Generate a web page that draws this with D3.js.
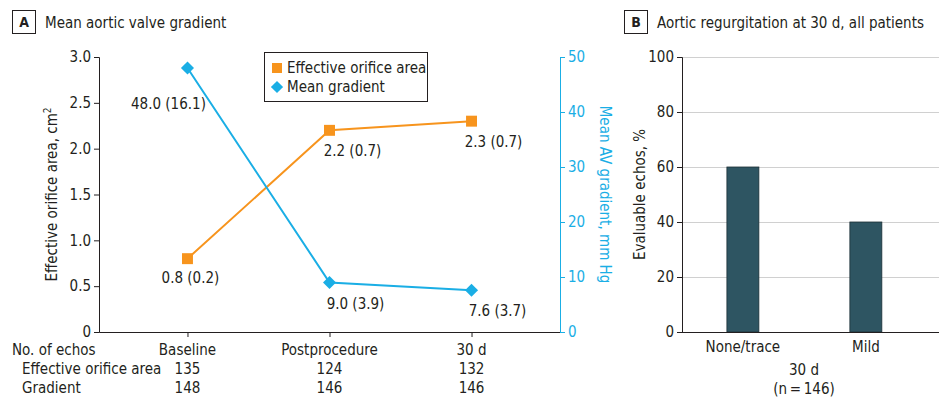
<!DOCTYPE html>
<html>
<head>
<meta charset="utf-8">
<script src="https://cdn.jsdelivr.net/npm/d3@7"></script>
<style>
  body { margin: 0; background: #fff; }
  svg text { font-family: "Liberation Sans Narrow", "DejaVu Sans Condensed", "Liberation Sans", sans-serif; fill: #231f20; }
</style>
</head>
<body>
<div id="vis-container"></div>
<script>
// panel A data
var timepoints = ["Baseline", "Postprocedure", "30 d"];
var eoaValues = [0.8, 2.2, 2.3];
var eoaLabels = ["0.8 (0.2)", "2.2 (0.7)", "2.3 (0.7)"];
var gradValues = [48.0, 9.0, 7.6];
var gradLabels = ["48.0 (16.1)", "9.0 (3.9)", "7.6 (3.7)"];
var eoaTicks = [0, 0.5, 1.0, 1.5, 2.0, 2.5, 3.0];
var gradTicks = [0, 10, 20, 30, 40, 50];
var echosEoa = [135, 124, 132];
var echosGrad = [148, 146, 146];

// panel B data
var arCategories = ["None/trace", "Mild"];
var arValues = [60, 40];
var arTicks = [0, 20, 40, 60, 80, 100];

var orange = "#f7941d", blue = "#1aaee5", dark = "#231f20", barFill = "#2e5562";

var svg = d3.select("#vis-container").append("svg")
  .attr("width", 939).attr("height", 412);

function panelTitle(x, letter, text) {
  svg.append("rect").attr("x", x + 0.5).attr("y", 10.5).attr("width", 23).attr("height", 23)
    .attr("fill", "none").attr("stroke", dark).attr("stroke-width", 1);
  svg.append("text").attr("x", x + 12).attr("y", 27).attr("text-anchor", "middle")
    .style("font-size", "14px").style("font-weight", "bold").text(letter);
  svg.append("text").attr("x", x + 33).attr("y", 28).style("font-size", "15px").text(text);
}
panelTitle(12, "A", "Mean aortic valve gradient");
panelTitle(624, "B", "Aortic regurgitation at 30 d, all patients");

// ---------- panel A ----------
var plotTop = 57, plotBottom = 332, plotLeft = 99, plotRight = 560;
var x = d3.scalePoint().domain(timepoints).range([plotLeft, plotRight]).padding(0.623);
var yL = d3.scaleLinear().domain([0, 3]).range([plotBottom, plotTop]);
var yR = d3.scaleLinear().domain([0, 50]).range([plotBottom, plotTop]);

var yAxisL = svg.append("g").attr("transform", "translate(" + plotLeft + ",0)")
  .call(d3.axisLeft(yL).tickValues(eoaTicks).tickSize(5).tickPadding(3)
    .tickFormat(function(d) { return d === 0 ? "0" : d3.format(".1f")(d); }));
yAxisL.selectAll("text").style("font-size", "15px");
yAxisL.selectAll("line, path").attr("stroke", dark);

var xAxis = svg.append("g").attr("transform", "translate(0," + plotBottom + ")")
  .call(d3.axisBottom(x).tickSize(5).tickSizeOuter(0).tickFormat(""));
xAxis.selectAll("line, path").attr("stroke", dark);

var yAxisR = svg.append("g").attr("transform", "translate(" + plotRight + ",0)")
  .call(d3.axisRight(yR).tickValues(gradTicks).tickSize(5).tickPadding(3));
yAxisR.selectAll("text").style("font-size", "15px").style("fill", blue);
yAxisR.selectAll("line, path").attr("stroke", blue);

svg.append("text")
  .attr("transform", "translate(57," + ((plotTop + plotBottom) / 2) + ") rotate(-90)")
  .attr("text-anchor", "middle").style("font-size", "15px")
  .html('Effective orifice area, cm<tspan dy="-6" style="font-size:10px">2</tspan>');

svg.append("text")
  .attr("transform", "translate(600," + ((plotTop + plotBottom) / 2) + ") rotate(90)")
  .attr("text-anchor", "middle").style("font-size", "15px").style("fill", blue)
  .text("Mean AV gradient, mm Hg");

// lines
var eoaLine = d3.line().x(function(d, i) { return x(timepoints[i]); }).y(function(d) { return yL(d); });
var gradLine = d3.line().x(function(d, i) { return x(timepoints[i]); }).y(function(d) { return yR(d); });

svg.append("path").datum(eoaValues).attr("d", eoaLine)
  .attr("fill", "none").attr("stroke", orange).attr("stroke-width", 2);
svg.append("path").datum(gradValues).attr("d", gradLine)
  .attr("fill", "none").attr("stroke", blue).attr("stroke-width", 2);

svg.selectAll(".eoa-pt").data(eoaValues).enter().append("path")
  .attr("class", "eoa-pt")
  .attr("d", d3.symbol().type(d3.symbolSquare).size(120))
  .attr("transform", function(d, i) { return "translate(" + x(timepoints[i]) + "," + yL(d) + ")"; })
  .attr("fill", orange);

// diamonds = squares turned 45 degrees
svg.selectAll(".grad-pt").data(gradValues).enter().append("path")
  .attr("class", "grad-pt")
  .attr("d", d3.symbol().type(d3.symbolSquare).size(85))
  .attr("transform", function(d, i) { return "translate(" + x(timepoints[i]) + "," + yR(d) + ") rotate(45)"; })
  .attr("fill", blue);

// value labels
var eoaOff = [[3, 24], [23, 26], [22, 26]];
svg.selectAll(".eoa-lab").data(eoaValues).enter().append("text")
  .attr("x", function(d, i) { return x(timepoints[i]) + eoaOff[i][0]; })
  .attr("y", function(d) { return yL(d); })
  .attr("dy", function(d, i) { return eoaOff[i][1]; })
  .attr("text-anchor", "middle").style("font-size", "15px")
  .text(function(d, i) { return eoaLabels[i]; });

var gradOff = [[-19, 41], [26, 26], [26, 26]];
svg.selectAll(".grad-lab").data(gradValues).enter().append("text")
  .attr("x", function(d, i) { return x(timepoints[i]) + gradOff[i][0]; })
  .attr("y", function(d) { return yR(d); })
  .attr("dy", function(d, i) { return gradOff[i][1]; })
  .attr("text-anchor", "middle").style("font-size", "15px")
  .text(function(d, i) { return gradLabels[i]; });

// legend
var leg = svg.append("g").attr("transform", "translate(264,52)");
leg.append("rect").attr("x", 0.5).attr("y", 0.5).attr("width", 163).attr("height", 49)
  .attr("fill", "#fff").attr("stroke", dark);
leg.append("path").attr("d", d3.symbol().type(d3.symbolSquare).size(100))
  .attr("transform", "translate(13,16)").attr("fill", orange);
leg.append("text").attr("x", 23).attr("y", 21).style("font-size", "15px").text("Effective orifice area");
leg.append("path").attr("d", d3.symbol().type(d3.symbolSquare).size(75))
  .attr("transform", "translate(13,35) rotate(45)").attr("fill", blue);
leg.append("text").attr("x", 23).attr("y", 40).style("font-size", "15px").text("Mean gradient");

// echo counts table
svg.append("text").attr("x", 12).attr("y", 355).style("font-size", "15px").text("No. of echos");
svg.append("text").attr("x", 22).attr("y", 374).style("font-size", "15px").text("Effective orifice area");
svg.append("text").attr("x", 22).attr("y", 393).style("font-size", "15px").text("Gradient");
svg.selectAll(".tp-lab").data(timepoints).enter().append("text")
  .attr("x", function(d) { return x(d); }).attr("y", 355)
  .attr("text-anchor", "middle").style("font-size", "15px").text(function(d) { return d; });
svg.selectAll(".n-eoa").data(echosEoa).enter().append("text")
  .attr("x", function(d, i) { return x(timepoints[i]); }).attr("y", 374)
  .attr("text-anchor", "middle").style("font-size", "15px").text(function(d) { return d; });
svg.selectAll(".n-grad").data(echosGrad).enter().append("text")
  .attr("x", function(d, i) { return x(timepoints[i]); }).attr("y", 393)
  .attr("text-anchor", "middle").style("font-size", "15px").text(function(d) { return d; });

// ---------- panel B ----------
var bLeft = 682, bRight = 939;
var xb = d3.scaleBand().domain(arCategories).range([bLeft, bRight])
  .paddingInner(0.74).paddingOuter(0.415).align(0.44);
var yb = d3.scaleLinear().domain([0, 100]).range([plotBottom, plotTop]);

svg.append("g").selectAll("line").data(arTicks.filter(function(d) { return d > 0; })).enter().append("line")
  .attr("x1", bLeft).attr("x2", bRight)
  .attr("y1", function(d) { return yb(d) + 0.5; }).attr("y2", function(d) { return yb(d) + 0.5; })
  .attr("stroke", "#d0d0d0").attr("stroke-width", 1);

svg.selectAll(".bar").data(arValues).enter().append("rect")
  .attr("class", "bar")
  .attr("x", function(d, i) { return xb(arCategories[i]); })
  .attr("width", xb.bandwidth())
  .attr("y", function(d) { return yb(d); })
  .attr("height", function(d) { return plotBottom - yb(d); })
  .attr("fill", barFill).attr("stroke", "#1c2f36").attr("stroke-width", 0.8);

var ybAxis = svg.append("g").attr("transform", "translate(" + bLeft + ",0)")
  .call(d3.axisLeft(yb).tickValues(arTicks).tickSize(5).tickPadding(3));
ybAxis.selectAll("text").style("font-size", "15px");
ybAxis.selectAll("line, path").attr("stroke", dark);

var xbAxis = svg.append("g").attr("transform", "translate(0," + plotBottom + ")")
  .call(d3.axisBottom(xb).tickSize(0).tickSizeOuter(0).tickPadding(9));
xbAxis.selectAll("text").style("font-size", "15px");
xbAxis.select("path").attr("d", "M" + bLeft + ",0.5H" + bRight).attr("stroke", dark);

svg.append("text")
  .attr("transform", "translate(645," + ((plotTop + plotBottom) / 2) + ") rotate(-90)")
  .attr("text-anchor", "middle").style("font-size", "15px").text("Evaluable echos, %");

svg.append("text").attr("x", 804).attr("y", 375).attr("text-anchor", "middle")
  .style("font-size", "15px").text("30 d");
svg.append("text").attr("x", 804).attr("y", 394).attr("text-anchor", "middle")
  .style("font-size", "15px").text("(n\u2009=\u2009146)");
</script>
</body>
</html>
